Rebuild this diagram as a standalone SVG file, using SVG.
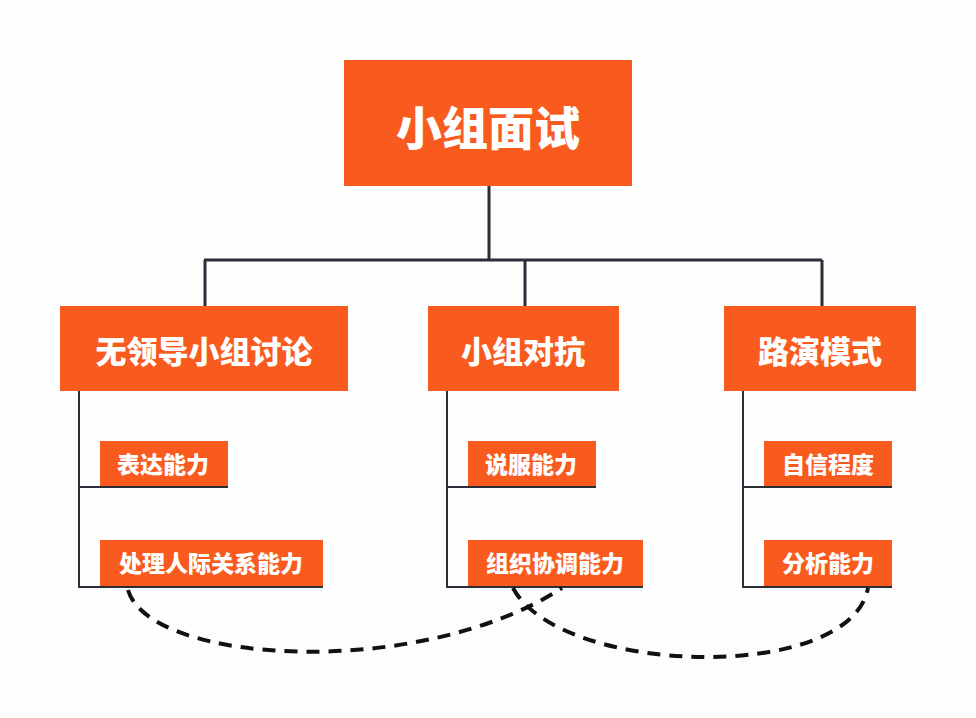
<svg xmlns="http://www.w3.org/2000/svg" width="976" height="718" viewBox="0 0 976 718">
<style>
.box{fill:#F95B1F}
.t{fill:#FFFFFF;font-family:"Noto Sans CJK SC","Noto Sans",sans-serif;font-weight:900;text-anchor:middle;dominant-baseline:central}
.t1{font-size:46px}
.t2{font-size:31px}
.t3{font-size:23px}
.ln{stroke:#2A2E38;stroke-width:3;fill:none}
.br{stroke:#2A2E38;stroke-width:2;fill:none}
.dash{stroke:#111111;stroke-width:4;fill:none;stroke-dasharray:13 9}
</style>
<rect width="976" height="718" fill="#FDFDFD"/>
<g id="connectors">
<path class="ln" d="M489,186 V260 M204,260 H822 M205,260 V306 M525,260 V306 M822,260 V306"/>
<path class="br" d="M79,391 V587 H323 M79,487 H228"/>
<path class="br" d="M447,391 V587 H643 M447,487 H596"/>
<path class="br" d="M743,391 V587 H892 M743,487 H892"/>
<path class="dash" d="M128,590 C150,665 420,680 562,588"/>
<path class="dash" d="M513,588 C560,676 850,684 868,588"/>
</g>
<g id="root"><rect class="box" x="344" y="60" width="288" height="126"/><text class="t t1" x="488" y="125">小组面试</text></g>
<g id="n1"><rect class="box" x="60" y="306" width="288" height="85"/><text class="t t2" x="204" y="349">无领导小组讨论</text></g>
<g id="n2"><rect class="box" x="428" y="306" width="191" height="85"/><text class="t t2" x="523" y="349">小组对抗</text></g>
<g id="n3"><rect class="box" x="724" y="306" width="192" height="85"/><text class="t t2" x="820" y="349">路演模式</text></g>
<g id="n1a"><rect class="box" x="100" y="441" width="128" height="45"/><text class="t t3" x="163" y="463">表达能力</text></g>
<g id="n1b"><rect class="box" x="100" y="540" width="223" height="46"/><text class="t t3" x="211" y="562">处理人际关系能力</text></g>
<g id="n2a"><rect class="box" x="468" y="441" width="128" height="45"/><text class="t t3" x="531" y="463">说服能力</text></g>
<g id="n2b"><rect class="box" x="468" y="540" width="175" height="46"/><text class="t t3" x="555" y="562">组织协调能力</text></g>
<g id="n3a"><rect class="box" x="764" y="441" width="128" height="45"/><text class="t t3" x="828" y="463">自信程度</text></g>
<g id="n3b"><rect class="box" x="764" y="540" width="128" height="46"/><text class="t t3" x="828" y="562">分析能力</text></g>
</svg>
